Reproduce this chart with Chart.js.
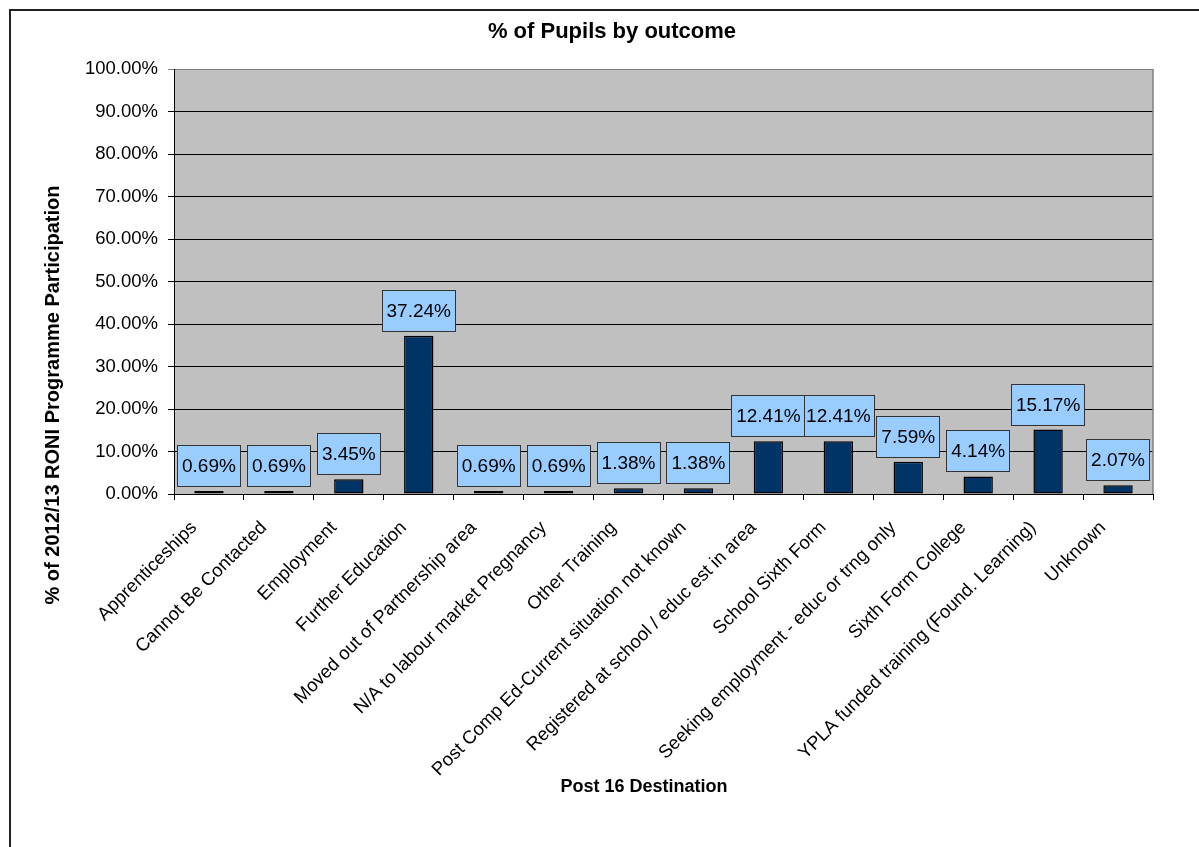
<!DOCTYPE html>
<html>
<head>
<meta charset="utf-8">
<title>% of Pupils by outcome</title>
<script src="https://cdn.jsdelivr.net/npm/chart.js"></script>
<style>
  html, body { margin: 0; padding: 0; background: #fff; overflow: hidden; }
  #frame {
    position: absolute; left: 9px; top: 9px; width: 1300px; height: 900px;
    border-left: 2px solid #222; border-top: 2px solid #222;
  }
  #wrap { position: absolute; left: 10px; top: 10px; width: 1204px; height: 837px; }
</style>
</head>
<body>
<div id="frame"></div>
<div id="wrap"><canvas id="outcomeChart"></canvas></div>
<script>
// --- data ---
const categories = [
  "Apprenticeships",
  "Cannot Be Contacted",
  "Employment",
  "Further Education",
  "Moved out of Partnership area",
  "N/A to labour market Pregnancy",
  "Other Training",
  "Post Comp Ed-Current situation not known",
  "Registered at school / educ est in area",
  "School Sixth Form",
  "Seeking employment - educ or trng only",
  "Sixth Form College",
  "YPLA funded training (Found. Learning)",
  "Unknown",
];
const pupilShare = [0.69, 0.69, 3.45, 37.24, 0.69, 0.69, 1.38, 1.38, 12.41, 12.41, 7.59, 4.14, 15.17, 2.07];
const yTickValues = [0, 10, 20, 30, 40, 50, 60, 70, 80, 90, 100];
const xAxisTitle = "Post 16 Destination";
const yAxisTitle = "% of 2012/13 RONI Programme Participation";

const FONT = "'Liberation Sans', Arial, sans-serif";
Chart.defaults.font.family = FONT;
Chart.defaults.color = "#000";

// grey plot background + grey right edge
const plotFrame = {
  id: "plotFrame",
  beforeDraw(chart) {
    const { ctx, chartArea: a } = chart;
    ctx.save();
    ctx.fillStyle = "#c0c0c0";
    ctx.fillRect(a.left, a.top, a.width, a.height);
    ctx.restore();
  },
  beforeDatasetsDraw(chart) {
    const { ctx, chartArea: a } = chart;
    ctx.save();
    ctx.strokeStyle = "#808080";
    ctx.lineWidth = 1.5;
    ctx.beginPath();
    ctx.moveTo(a.right, a.top);
    ctx.lineTo(a.right, a.bottom);
    ctx.stroke();
    ctx.restore();
  },
};

// light blue value boxes above each bar
const valueBoxes = {
  id: "valueBoxes",
  afterDatasetsDraw(chart) {
    const ctx = chart.ctx;
    const meta = chart.getDatasetMeta(0);
    ctx.save();
    ctx.font = "19px " + FONT;
    ctx.textAlign = "center";
    ctx.textBaseline = "middle";
    for (let i = meta.data.length - 1; i >= 0; i--) {
      const bar = meta.data[i];
      const text = pupilShare[i].toFixed(2) + "%";
      const w = Math.round(ctx.measureText(text).width + 10);
      const h = 42;
      const x = Math.round(bar.x - w / 2);
      const y = Math.round(bar.y - 4 - h);
      ctx.fillStyle = "#99ccff";
      ctx.fillRect(x, y, w, h);
      ctx.strokeStyle = "#333";
      ctx.lineWidth = 1;
      ctx.strokeRect(x + 0.5, y + 0.5, w - 1, h - 1);
      ctx.fillStyle = "#000";
      ctx.fillText(text, bar.x, y + h / 2 + 1);
    }
    ctx.restore();
  },
};

// axis titles, placed where the original puts them
const axisTitles = {
  id: "axisTitles",
  afterDraw(chart) {
    const ctx = chart.ctx;
    ctx.save();
    ctx.fillStyle = "#000";
    ctx.textAlign = "center";
    ctx.textBaseline = "middle";
    ctx.font = "bold 18px " + FONT;
    ctx.fillText(xAxisTitle, 634, 777);
    ctx.font = "bold 20px " + FONT;
    ctx.translate(43, 385);
    ctx.rotate(-Math.PI / 2);
    ctx.fillText(yAxisTitle, 0, 0);
    ctx.restore();
  },
};

new Chart(document.getElementById("outcomeChart"), {
  type: "bar",
  data: {
    labels: categories,
    datasets: [
      {
        data: pupilShare,
        backgroundColor: "#003366",
        borderColor: "#000",
        borderWidth: 1.5,
        borderSkipped: false,
        barPercentage: 0.42,
        categoryPercentage: 1,
      },
    ],
  },
  options: {
    responsive: true,
    maintainAspectRatio: false,
    animation: false,
    layout: { padding: { left: 61, right: 61 } },
    plugins: {
      legend: { display: false },
      tooltip: { enabled: false },
      title: {
        display: true,
        text: "% of Pupils by outcome",
        font: { size: 22, weight: "bold" },
        padding: { top: 9, bottom: 23.6 },
      },
    },
    scales: {
      x: {
        grid: { offset: true, drawOnChartArea: false, color: "#000", tickLength: 6 },
        border: { color: "#000", width: 1 },
        ticks: {
          minRotation: 45,
          maxRotation: 45,
          autoSkip: false,
          padding: 17,
          labelOffset: -15,
          font: { size: 18.5 },
        },
        afterFit(scale) { scale.height = 353; },
      },
      y: {
        min: 0,
        max: 100,
        afterBuildTicks(scale) { scale.ticks = yTickValues.map((v) => ({ value: v })); },
        grid: {
          color: (c) => (c.tick && c.tick.value === 100 ? "#808080" : "#000"),
          tickLength: 6,
        },
        border: { color: "#000", width: 1 },
        ticks: {
          padding: 10,
          font: { size: 18.5 },
          callback: (v) => Number(v).toFixed(2) + "%",
        },
        afterFit(scale) { scale.width = 103; },
      },
    },
  },
  plugins: [plotFrame, valueBoxes, axisTitles],
});
</script>
</body>
</html>
